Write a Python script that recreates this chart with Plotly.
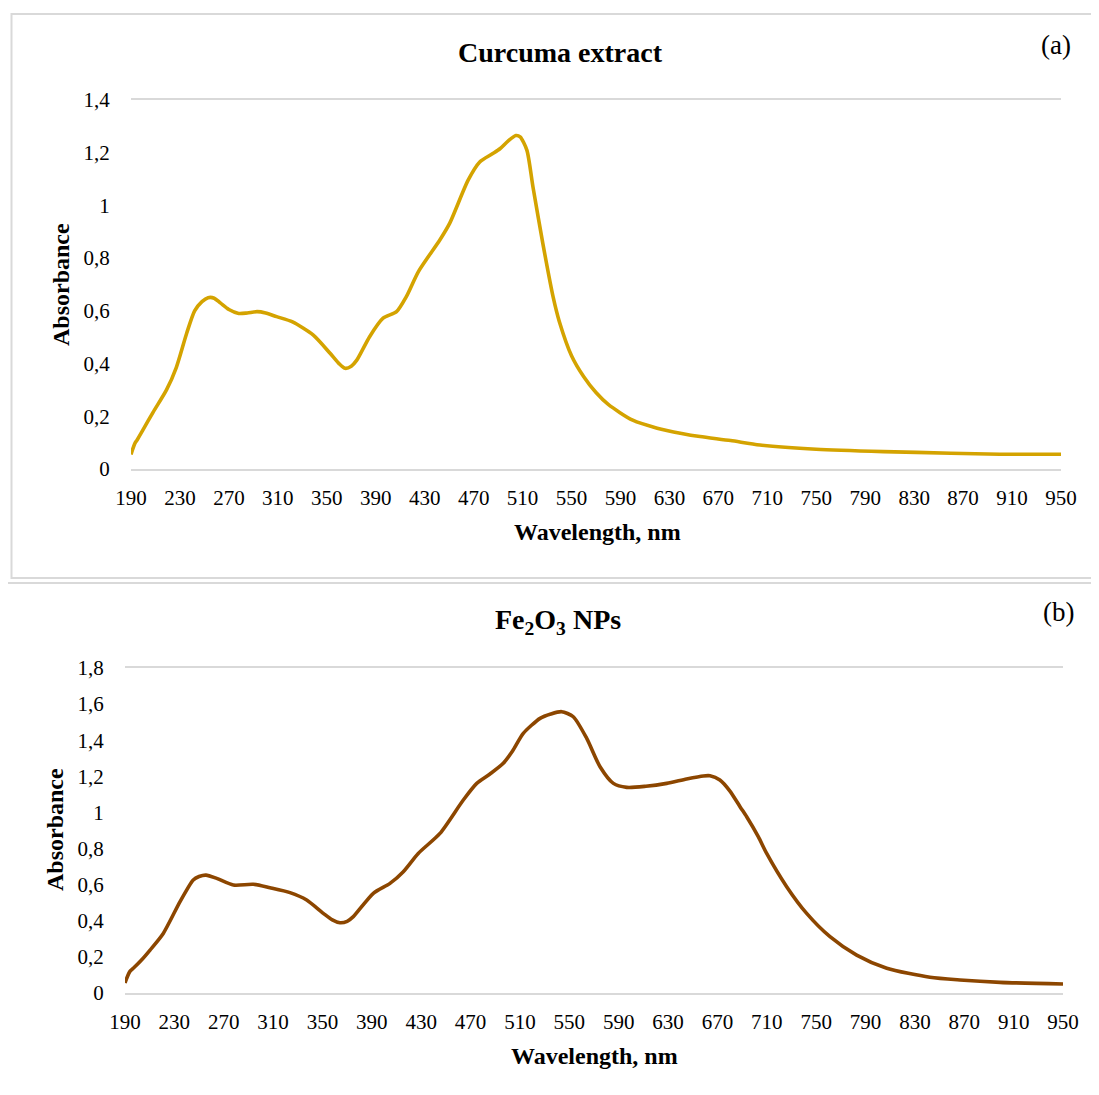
import plotly.graph_objects as go

# ---------------- data ----------------
wl_a = [190, 191, 193.5, 195, 200, 208, 219, 227, 235.5, 242, 248, 253, 258, 263, 270, 278, 285, 293, 300,
        309, 322, 339, 352.5, 360, 365, 370, 374.5, 385, 396, 407, 415, 425, 442.5, 450.5, 465.5, 475,
        485, 491.5, 498.3, 504.5, 508, 513.5, 518.5, 526.5, 535, 540, 550, 560, 570, 580, 600, 620, 640,
        655, 680, 704, 750, 805, 860, 900, 950]
abs_a = [0.055, 0.07, 0.10, 0.11, 0.15, 0.215, 0.30, 0.385, 0.515, 0.60, 0.635, 0.65, 0.648, 0.63, 0.605,
         0.59, 0.592, 0.597, 0.592, 0.578, 0.558, 0.508, 0.44, 0.40, 0.382, 0.39, 0.413, 0.502, 0.572,
         0.597, 0.654, 0.75, 0.87, 0.933, 1.096, 1.165, 1.195, 1.215, 1.245, 1.265, 1.26, 1.21, 1.07,
         0.857, 0.652, 0.56, 0.43, 0.35, 0.29, 0.245, 0.185, 0.155, 0.135, 0.123, 0.108, 0.091, 0.075,
         0.066, 0.06, 0.056, 0.056]

wl_b = [190, 191, 194, 196.7, 203, 210.3, 221, 234.6, 245.3, 250, 255.6, 264.3, 277.8, 294, 307.5, 323.7,
        337.2, 350.7, 358, 364.2, 370, 375, 391.2, 404.7, 415.5, 427.6, 445.2, 464.1, 475, 485.7, 496.5,
        504, 512.7, 526.3, 535, 543.8, 553.2, 564.1, 574.9, 585.7, 596.5, 612, 628.9, 645, 658.6, 664,
        672, 680, 688.3, 693.7, 703.1, 709.9, 726.1, 742.3, 761.2, 782.8, 807.2, 842.2, 866.5, 899, 950]
abs_b = [0.055, 0.075, 0.12, 0.137, 0.18, 0.238, 0.33, 0.506, 0.626, 0.645, 0.653, 0.635, 0.598, 0.602,
         0.583, 0.556, 0.515, 0.441, 0.405, 0.389, 0.397, 0.423, 0.552, 0.607, 0.672, 0.773, 0.884, 1.069,
         1.161, 1.213, 1.272, 1.34, 1.438, 1.521, 1.545, 1.558, 1.53, 1.41, 1.253, 1.161, 1.139, 1.145,
         1.161, 1.185, 1.202, 1.203, 1.18, 1.12, 1.032, 0.976, 0.866, 0.773, 0.589, 0.441, 0.312, 0.21,
         0.137, 0.087, 0.072, 0.059, 0.05]

x_ticks = list(range(190, 951, 40))
y_ticks_a = [0, 0.2, 0.4, 0.6, 0.8, 1, 1.2, 1.4]
y_labels_a = ["0", "0,2", "0,4", "0,6", "0,8", "1", "1,2", "1,4"]
y_ticks_b = [0, 0.2, 0.4, 0.6, 0.8, 1, 1.2, 1.4, 1.6, 1.8]
y_labels_b = ["0", "0,2", "0,4", "0,6", "0,8", "1", "1,2", "1,4", "1,6", "1,8"]

# ---------------- figure ----------------
W, H = 1099, 1095
OFF = 8  # page body margin compensation
FONT = "Liberation Serif, Times New Roman, serif"
GRID = "#d9d9d9"

def px(x):
    return (x - OFF) / W

def py(y):
    return 1 - (y - OFF) / H

fig = go.Figure()
fig.add_trace(go.Scatter(x=wl_a, y=abs_a, mode="lines",
                         line=dict(color="#d4a300", width=3.6, shape="spline", smoothing=0.7),
                         xaxis="x", yaxis="y", showlegend=False))
fig.add_trace(go.Scatter(x=wl_b, y=abs_b, mode="lines",
                         line=dict(color="#8c4600", width=3.6, shape="spline", smoothing=0.7),
                         xaxis="x2", yaxis="y2", showlegend=False))

xcommon = dict(range=[190, 950], tickvals=x_ticks, ticktext=[str(v) for v in x_ticks], showgrid=False,
               zeroline=False, showline=True, mirror=True, linecolor=GRID, linewidth=1.6,
               ticks="outside", ticklen=9, tickcolor="rgba(0,0,0,0)", automargin=False,
               tickfont=dict(family=FONT, size=21, color="#000"))
ycommon = dict(showgrid=False, zeroline=False, showline=False, ticks="outside", ticklen=16,
               tickcolor="rgba(0,0,0,0)", automargin=False,
               tickfont=dict(family=FONT, size=21, color="#000"))

fig.update_layout(
    width=W, height=H, margin=dict(l=0, r=0, t=0, b=0, pad=0, autoexpand=False),
    paper_bgcolor="white", plot_bgcolor="white",
    xaxis=dict(domain=[px(131), px(1061)], anchor="y", **xcommon),
    yaxis=dict(domain=[py(469), py(100)], anchor="x", range=[0, 1.4], tickvals=y_ticks_a, ticktext=y_labels_a, **ycommon),
    xaxis2=dict(domain=[px(125), px(1063)], anchor="y2", **xcommon),
    yaxis2=dict(domain=[py(993), py(668)], anchor="x2", range=[0, 1.8], tickvals=y_ticks_b, ticktext=y_labels_b, **ycommon),
)

# panel borders
fig.add_shape(type="rect", xref="paper", yref="paper", x0=px(11.5), x1=px(1110), y0=py(578), y1=py(14),
              line=dict(color=GRID, width=2), fillcolor="rgba(0,0,0,0)", layer="below")
fig.add_shape(type="rect", xref="paper", yref="paper", x0=px(6), x1=px(1110), y0=py(1110), y1=py(583),
              line=dict(color=GRID, width=2), fillcolor="rgba(0,0,0,0)", layer="below")

def ann(text, x, y, size, bold=False, angle=0):
    fig.add_annotation(text=f"<b>{text}</b>" if bold else text, xref="paper", yref="paper",
                       x=px(x), y=py(y), xanchor="center", yanchor="middle", showarrow=False,
                       textangle=angle, font=dict(family=FONT, size=size, color="#000"))

ann("Curcuma extract", 560, 53, 28, bold=True)
ann("(a)", 1056, 45, 27)
ann("Wavelength, nm", 597, 532, 24, bold=True)
ann("Absorbance", 61, 285, 24, bold=True, angle=-90)

ann("Fe<sub>2</sub>O<sub>3</sub> NPs", 558, 621, 28, bold=True)
ann("(b)", 1058, 612, 27)
ann("Wavelength, nm", 594, 1056, 24, bold=True)
ann("Absorbance", 55, 830, 24, bold=True, angle=-90)

fig.write_html("out.html")
